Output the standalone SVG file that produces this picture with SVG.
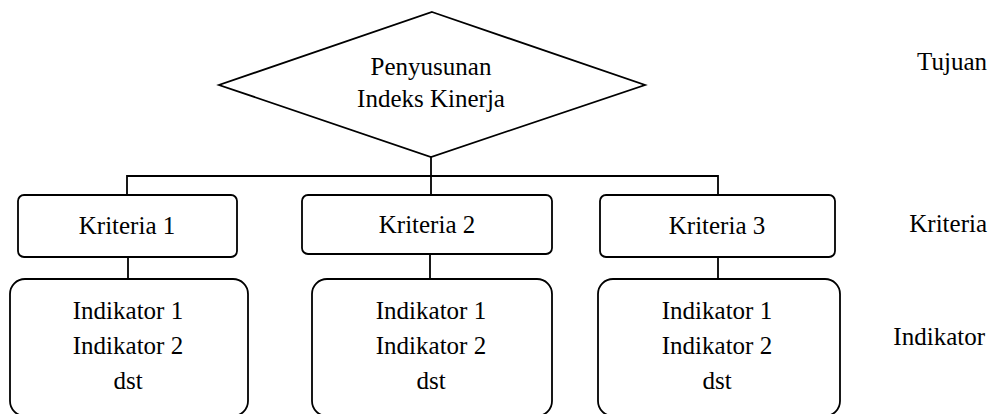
<svg xmlns="http://www.w3.org/2000/svg" width="991" height="414" viewBox="0 0 991 414">
<style>
.s{fill:#fff;stroke:#000;stroke-width:1.8}
.c{fill:none;stroke:#000;stroke-width:1.8}
</style>
<rect width="991" height="414" fill="#fff"/>
<g id="connectors">
<path class="c" d="M431,157V176M127,195V176H718V195M431,176V195M128,257V279M430,254V279M718,257V279"/>
</g>
<g font-family="'Liberation Serif', 'DejaVu Serif', serif" font-size="25" fill="#000" text-anchor="middle">
<g id="tujuan">
<polygon class="s" points="432,12 645,85 431,157 219,85"/>
<text x="431" y="75">Penyusunan</text>
<text x="431" y="107">Indeks Kinerja</text>
</g>
<g id="kriteria1">
<rect class="s" x="18" y="195" width="219" height="62" rx="6"/>
<text x="127" y="234">Kriteria 1</text>
</g>
<g id="kriteria2">
<rect class="s" x="302" y="195" width="250" height="59" rx="6"/>
<text x="427" y="233">Kriteria 2</text>
</g>
<g id="kriteria3">
<rect class="s" x="600" y="195" width="235" height="62" rx="6"/>
<text x="717" y="234">Kriteria 3</text>
</g>
<g id="indikator1">
<rect class="s" x="10" y="279" width="238" height="137" rx="15"/>
<text x="128" y="319">Indikator 1</text>
<text x="128" y="354">Indikator 2</text>
<text x="128" y="389">dst</text>
</g>
<g id="indikator2">
<rect class="s" x="312" y="279" width="240" height="137" rx="15"/>
<text x="431" y="319">Indikator 1</text>
<text x="431" y="354">Indikator 2</text>
<text x="431" y="389">dst</text>
</g>
<g id="indikator3">
<rect class="s" x="598" y="279" width="242" height="137" rx="15"/>
<text x="717" y="319">Indikator 1</text>
<text x="717" y="354">Indikator 2</text>
<text x="717" y="389">dst</text>
</g>
<g id="labels" text-anchor="end">
<text x="987" y="70">Tujuan</text>
<text x="987" y="232">Kriteria</text>
<text x="985" y="345">Indikator</text>
</g>
</g>
</svg>
